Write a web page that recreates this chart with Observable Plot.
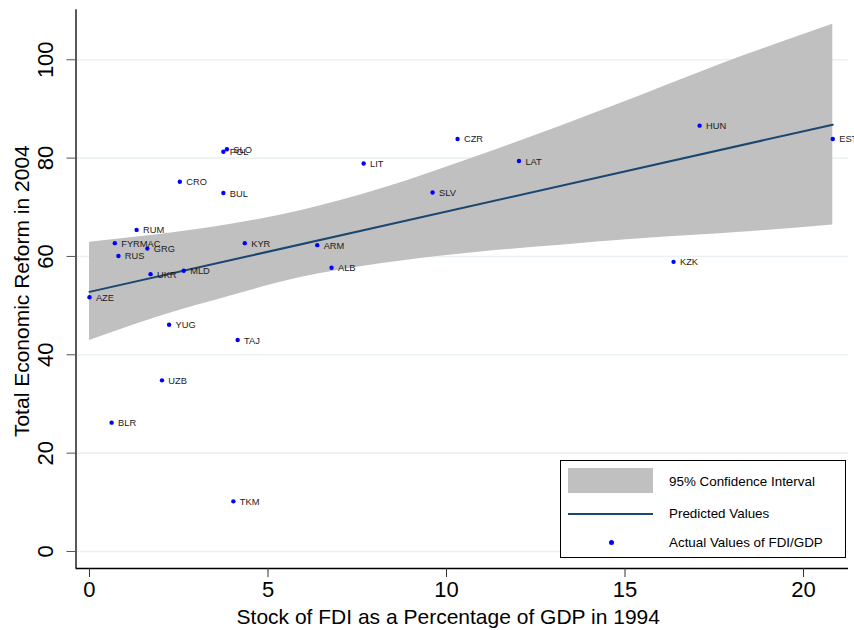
<!DOCTYPE html>
<html>
<head>
<meta charset="utf-8">
<script src="https://cdn.jsdelivr.net/npm/d3@7"></script>
<script src="https://cdn.jsdelivr.net/npm/@observablehq/plot@0.6"></script>
<style>
  body { margin: 0; background: #fff; font-family: "Liberation Sans", Arial, sans-serif; }
  #wrap { position: relative; width: 854px; height: 630px; overflow: hidden; }
  #legend { position: absolute; left: 560px; top: 460px; width: 286px; height: 98px; border: 1px solid #000; background: #fff; box-sizing: border-box; }
  #legend .sw { position: absolute; }
  #legend .lab { position: absolute; left: 108px; font-size: 13.4px; color: #000; transform: translateY(-50%); white-space: nowrap; line-height: 1; }
</style>
</head>
<body>
<div id="wrap">
  <div id="chart"></div>
  <div id="legend">
    <div class="sw" style="left:7px;top:7px;width:85px;height:25px;background:#c0c0c0;"></div>
    <div class="lab" style="top:21px;">95% Confidence Interval</div>
    <div class="sw" style="left:7px;top:52px;width:85px;height:2px;background:#1a476f;"></div>
    <div class="lab" style="top:53px;">Predicted Values</div>
    <div class="sw" style="left:48px;top:79px;width:5px;height:5px;border-radius:50%;background:#0000ff;"></div>
    <div class="lab" style="top:82px;">Actual Values of FDI/GDP</div>
  </div>
</div>
<script>
// Countries and their values
const countries = ["AZE","FYRMAC","RUS","RUM","GRG","UKR","MLD","CRO","BUL","POL","SLO","KYR","YUG","TAJ","UZB","BLR","TKM","ARM","ALB","LIT","SLV","CZR","LAT","KZK","HUN","EST"];
const fdiGdp1994 = [0.00,0.71,0.81,1.32,1.62,1.71,2.64,2.53,3.75,3.75,3.85,4.35,2.23,4.15,2.03,0.62,4.03,6.38,6.78,7.68,9.61,10.31,12.03,16.36,17.09,20.82];
const reform2004 = [51.7,62.7,60.1,65.4,61.6,56.4,57.1,75.2,72.9,81.3,81.8,62.7,46.1,43.0,34.8,26.2,10.2,62.3,57.7,78.9,73.0,83.9,79.4,58.9,86.6,83.9];

// Predicted values (fitted line)
const fitX = [0, 20.82];
const fitY = [52.8, 86.8];

// 95% confidence interval
const ciX  = [0, 2.55, 3.58, 5.91, 8.15, 10.95, 13.19, 15.43, 18.24, 20.82];
const ciLo = [42.9, 49.1, 51.2, 55.7, 58.5, 60.9, 62.3, 63.6, 64.9, 66.4];
const ciHi = [62.9, 65.0, 66.1, 69.3, 73.7, 80.6, 86.5, 92.7, 100.6, 107.2];

// Axis ticks and titles
const xTicks = [0, 5, 10, 15, 20];
const yTicks = [0, 20, 40, 60, 80, 100];
const xTitle = "Stock of FDI as a Percentage of GDP in 1994";
const yTitle = "Total Economic Reform in 2004";

const pts = countries.map((c, i) => ({name: c, x: fdiGdp1994[i], y: reform2004[i]}));
const fit = fitX.map((x, i) => ({x, y: fitY[i]}));
const band = ciX.map((x, i) => ({x, lo: ciLo[i], hi: ciHi[i]}));

const xDom = [-0.378, 21.26];
const yDom = [-3.46, 110.16];
const font = "'Liberation Sans', Arial, sans-serif";

const chart = Plot.plot({
  width: 854,
  height: 630,
  marginLeft: 75.5,
  marginRight: 6,
  marginTop: 9.3,
  marginBottom: 62,
  style: {fontFamily: font, background: "white", color: "#000"},
  x: {domain: xDom},
  y: {domain: yDom},
  marks: [
    Plot.gridY(yTicks, {stroke: "#eaf2f3", strokeOpacity: 1, strokeWidth: 1.6}),
    Plot.areaY(band, {x: "x", y1: "lo", y2: "hi", fill: "#c0c0c0", curve: "monotone-x"}),
    Plot.line(fit, {x: "x", y: "y", stroke: "#1a476f", strokeWidth: 2}),
    Plot.dot(pts, {x: "x", y: "y", r: 2.2, fill: "#0000ff"}),
    Plot.text(pts, {x: "x", y: "y", text: "name", dx: 6.4, dy: 0.5, textAnchor: "start", lineAnchor: "middle", fontSize: 9.3, fill: "#1a1a1a"}),
    Plot.ruleX([xDom[0]], {stroke: "#000", strokeWidth: 1.3}),
    Plot.ruleY([yDom[0]], {stroke: "#000", strokeWidth: 1.3}),
    Plot.axisX(xTicks, {tickSize: 9, tickPadding: 4, fontSize: 22, label: null, stroke: "#333"}),
    Plot.axisY(yTicks, {tickSize: 9, tickFormat: () => "", label: null, stroke: "#555"}),
    Plot.text(yTicks, {y: d => d, text: d => String(d), frameAnchor: "left", dx: -30, rotate: -90, textAnchor: "middle", lineAnchor: "middle", fontSize: 22, fill: "#000"}),
    Plot.text([xTitle], {text: d => d, frameAnchor: "bottom", dx: -14, dy: 49, lineAnchor: "middle", fontSize: 21, fill: "#000"}),
    Plot.text([yTitle], {text: d => d, frameAnchor: "left", dx: -53.5, dy: 2, rotate: -90, textAnchor: "middle", lineAnchor: "middle", fontSize: 21, fill: "#000"})
  ]
});
document.getElementById("chart").appendChild(chart);
</script>
</body>
</html>
